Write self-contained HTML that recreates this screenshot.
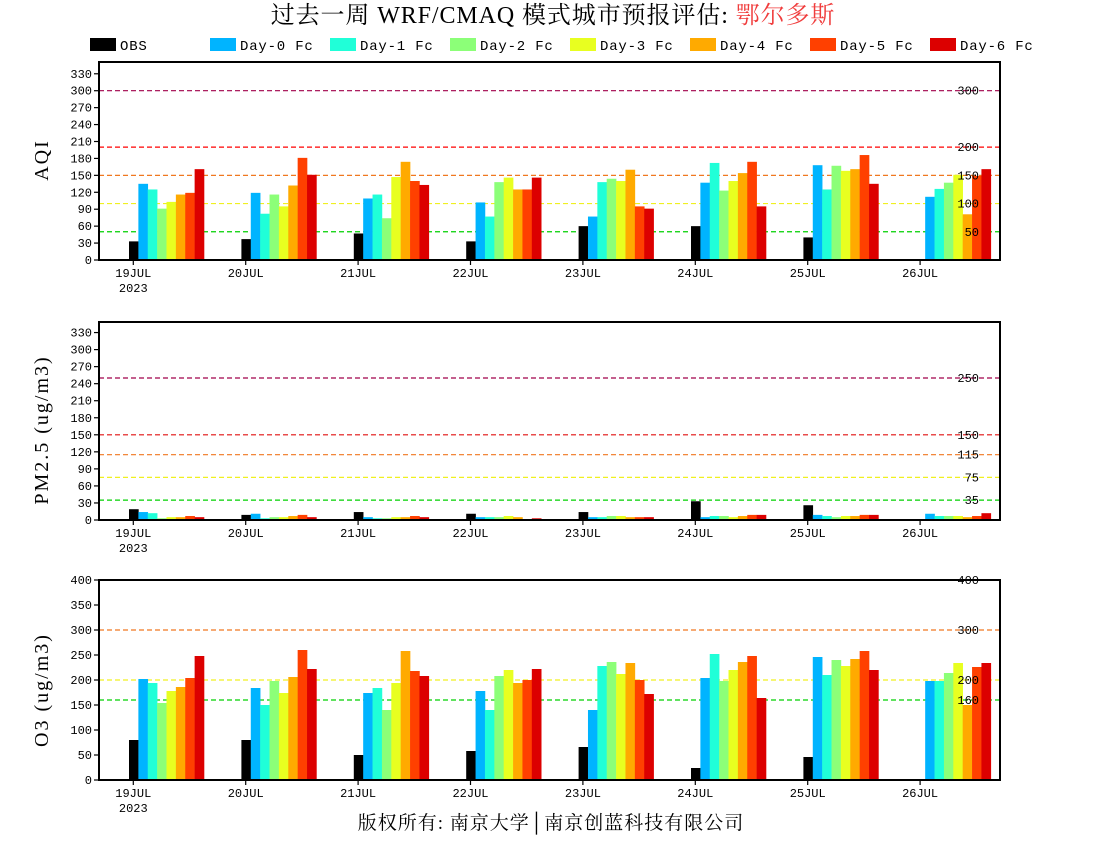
<!DOCTYPE html>
<html><head><meta charset="utf-8"><style>
body{margin:0;background:#fff;width:1100px;height:850px;overflow:hidden}
svg{display:block}
text{font-family:"Liberation Mono","DejaVu Sans Mono",monospace}
.s{font-family:"Liberation Serif","Noto Serif CJK SC",serif}
</style></head><body>
<svg id="c" width="1100" height="850" viewBox="0 0 1100 850" xmlns="http://www.w3.org/2000/svg">
<text class="s" x="553" y="23" text-anchor="middle" font-size="24" letter-spacing="0.9">过去一周 WRF/CMAQ 模式城市预报评估: <tspan fill="#f03c3c">鄂尔多斯</tspan></text>
<text class="s" x="551" y="829" text-anchor="middle" font-size="19" letter-spacing="1">版权所有: 南京大学│南京创蓝科技有限公司</text>
</svg>
<script>
const days = ["19JUL","20JUL","21JUL","22JUL","23JUL","24JUL","25JUL","26JUL"];
const seriesNames = ["OBS","Day-0 Fc","Day-1 Fc","Day-2 Fc","Day-3 Fc","Day-4 Fc","Day-5 Fc","Day-6 Fc"];
const seriesColors = ["#000000","#00b4ff","#20ffd8","#8cff78","#e8ff20","#ffaa00","#ff4000","#dc0000"];
const aqiValues = [
 [33,37,47,33,60,60,40,null],
 [135,119,109,102,77,137,168,112],
 [125,82,116,77,138,172,125,126],
 [91,116,74,138,144,123,167,137],
 [103,95,147,146,140,140,158,151],
 [116,132,174,125,160,154,161,81],
 [119,181,140,125,95,174,186,149],
 [161,151,133,146,91,95,135,161]];
const pmValues = [
 [19,9,14,11,14,33,26,null],
 [14,11,5,5,5,5,9,11],
 [12,3,3,5,5,7,7,7],
 [3,5,3,5,7,7,5,7],
 [5,5,5,7,7,5,7,7],
 [5,7,5,5,5,7,7,5],
 [7,9,7,0,5,9,9,7],
 [5,5,5,3,5,9,9,12]];
const o3Values = [
 [80,80,50,58,66,24,46,null],
 [202,184,174,178,140,204,246,198],
 [194,150,184,140,228,252,210,198],
 [154,198,140,208,236,198,240,214],
 [178,174,194,220,212,220,228,234],
 [186,206,258,194,234,236,242,150],
 [204,260,218,200,200,248,258,226],
 [248,222,208,222,172,164,220,234]];
const aqiTicks = [0,30,60,90,120,150,180,210,240,270,300,330];
const pmTicks = [0,30,60,90,120,150,180,210,240,270,300,330];
const o3Ticks = [0,50,100,150,200,250,300,350,400];
const aqiLines = [[300,"#a0004a"],[200,"#ff0000"],[150,"#f07820"],[100,"#f0f020"],[50,"#00d000"]];
const pmLines = [[250,"#a0004a"],[150,"#e01010"],[115,"#f07820"],[75,"#f0f020"],[35,"#00d000"]];
const o3Lines = [[400,"#ff0000"],[300,"#f07820"],[200,"#f0f020"],[160,"#00d000"]];

const NS="http://www.w3.org/2000/svg";
const svg=document.getElementById('c');
function mk(tag,attrs,parent){const e=document.createElementNS(NS,tag);for(const k in attrs)e.setAttribute(k,attrs[k]);(parent||svg).appendChild(e);return e;}
const L=99,R=1000;
function xDay(i){return 133.3+112.4*i;}
const barW=9.375;

seriesNames.forEach((n,k)=>{
  const x=90+120*k;
  const sw=mk('rect',{x:x,y:38,width:26,height:13,fill:seriesColors[k]});
  
  
  const t=mk('text',{x:x+30,y:50,'font-size':14,'letter-spacing':0.8});
  
  
  t.textContent=n;
});

function panel(name,top,bottom,maxV,ticks,lines,values,title,titleY){
  const g=mk('g',{});
  
  
  const y=v=>bottom-(v/maxV)*(bottom-top);
  lines.forEach(([v,c])=>{
    const ln=mk('line',{x1:L,x2:R,y1:y(v),y2:y(v),stroke:c,'stroke-width':1.2,'stroke-dasharray':'5,3'},g);
    
    
  });
  values.forEach((row,k)=>{
    row.forEach((v,i)=>{
      if(v===null||v===undefined)return;
      const x=xDay(i)-4.3+k*barW;
      const b=mk('rect',{x:x,y:y(v),width:barW+0.3,height:bottom-y(v),fill:seriesColors[k]},g);
      
      
    });
  });
  lines.forEach(([v,c])=>{
    const t=mk('text',{x:979,y:y(v)+4,'text-anchor':'end','font-size':12},g);
    
    
    t.textContent=v;
  });
  const fr=mk('rect',{x:L,y:top,width:R-L,height:bottom-top,fill:'none',stroke:'#000','stroke-width':2},g);
  
  
  ticks.forEach(v=>{
    mk('line',{x1:L-5,x2:L,y1:y(v),y2:y(v),stroke:'#000','stroke-width':1.2},g);
    const t=mk('text',{x:L-7,y:y(v)+4,'text-anchor':'end','font-size':12},g);
    
    
    t.textContent=v;
  });
  days.forEach((d,i)=>{
    mk('line',{x1:xDay(i),x2:xDay(i),y1:bottom,y2:bottom+5,stroke:'#000','stroke-width':1.2},g);
    const t=mk('text',{x:xDay(i),y:bottom+17,'text-anchor':'middle','font-size':12},g);
    
    
    t.textContent=d;
  });
  const yr=mk('text',{x:xDay(0),y:bottom+32,'text-anchor':'middle','font-size':12},g);
  
  
  yr.textContent='2023';
  const at=mk('text',{x:0,y:0,'text-anchor':'middle','font-size':20,'letter-spacing':2,'class':'s',transform:'translate(48,'+titleY+') rotate(-90)'},g);
  
  
  at.textContent=title;
}
panel('aqi',62,260,200/0.57,aqiTicks,aqiLines,aqiValues,'AQI',160);
panel('pm25',322,520,198/0.568,pmTicks,pmLines,pmValues,'PM2.5 (ug/m3)',430);
panel('o3',580,780,400,o3Ticks,o3Lines,o3Values,'O3 (ug/m3)',690);
</script>
</body></html>
